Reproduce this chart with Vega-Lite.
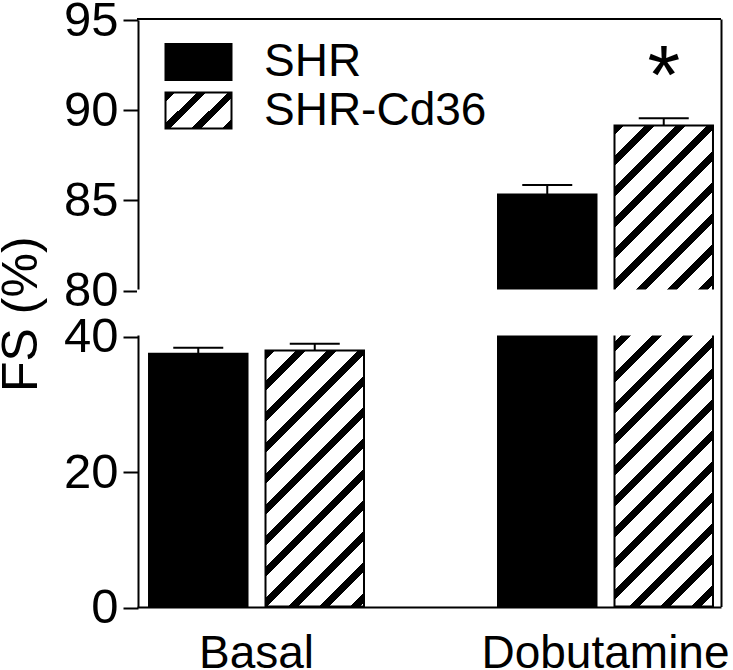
{
  "$schema": "https://vega.github.io/schema/vega-lite/v6.json",
  "width": 584,
  "height": 588,
  "autosize": {"type": "none"},
  "padding": {"left": 137, "top": 19, "right": 12, "bottom": 63},
  "background": "white",
  "config": {"font": "Liberation Sans", "view": {"stroke": null}},
  "data": {"values": [
    {"cond": "Basal", "group": "SHR", "fs": 37.3, "upper": 38.2, "sig": ""},
    {"cond": "Basal", "group": "SHR-Cd36", "fs": 37.8, "upper": 38.8, "sig": ""},
    {"cond": "Dobutamine", "group": "SHR", "fs": 85.27, "upper": 85.8, "sig": ""},
    {"cond": "Dobutamine", "group": "SHR-Cd36", "fs": 89.1, "upper": 89.5, "sig": "*"}
  ]},
  "layer": [
    {
      "mark": {"type": "bar", "stroke": "black", "strokeWidth": 2},
      "encoding": {
        "x": {"field": "cond", "type": "nominal", "sort": ["Basal", "Dobutamine"], "scale": {"paddingInner": 0.384, "paddingOuter": 0.0287, "align": 0.6}, "axis": {"title": null, "labelAngle": 0, "labelFontSize": 46, "labelColor": "black", "labelLimit": 0, "labelOverlap": false, "ticks": false, "tickSize": 0, "labelPadding": 24, "domainColor": "black", "domainWidth": 2}},
        "xOffset": {"field": "group", "type": "nominal", "sort": ["SHR", "SHR-Cd36"], "scale": {"paddingInner": 0.1545, "paddingOuter": 0}},
        "y": {"field": "fs", "type": "quantitative", "scale": {"type": "linear", "domain": [0, 40, 80, 95], "range": [587.5, 316.5, 270.5, 0], "nice": false}, "axis": {"values": [0, 20, 40, 80, 85, 90, 95], "grid": false, "labelFontSize": 49, "labelColor": "black", "labelOverlap": false, "labelLimit": 0, "labelPadding": 5, "tickSize": 15, "tickWidth": 2, "tickColor": "black", "domainWidth": 2, "domainColor": "black", "translate": 1.5, "title": "FS (%)", "titleFontSize": 50, "titleFontWeight": "normal", "titleColor": "black", "titlePadding": 17}},
        "fill": {
          "field": "group", "type": "nominal",
          "scale": {"domain": ["SHR", "SHR-Cd36"], "range": ["black", {"expr": "{gradient: 'linear', x1: 0, y1: 0, x2: 9.0499, y2: 4.9363, stops: [{offset: 0, color: '#000'}, {offset: 0.012, color: '#000'}, {offset: 0.012, color: '#fff'}, {offset: 0.04, color: '#fff'}, {offset: 0.04, color: '#000'}, {offset: 0.052, color: '#000'}, {offset: 0.052, color: '#fff'}, {offset: 0.08, color: '#fff'}, {offset: 0.08, color: '#000'}, {offset: 0.092, color: '#000'}, {offset: 0.092, color: '#fff'}, {offset: 0.12, color: '#fff'}, {offset: 0.12, color: '#000'}, {offset: 0.132, color: '#000'}, {offset: 0.132, color: '#fff'}, {offset: 0.16, color: '#fff'}]}"}]},
          "legend": {"orient": "none", "legendX": 38.5, "legendY": 20, "title": null, "padding": 0, "symbolType": "M-2,-1.09L2,-1.09L2,1.09L-2,1.09Z", "symbolSize": 1089, "symbolStrokeColor": "black", "symbolStrokeWidth": 2, "labelFontSize": 46, "labelColor": "black", "labelLimit": 0, "labelOffset": 42.5, "rowPadding": 2.5},
          "condition": [
            {"test": "datum.group === 'SHR-Cd36' && datum.cond === 'Basal'", "value": {"gradient": "linear", "x1": 0, "y1": 0, "x2": 1.0139, "y2": 2.6362, "stops": [
              {"offset": 0, "color": "#000"}, {"offset": 0.012, "color": "#000"}, {"offset": 0.012, "color": "#fff"}, {"offset": 0.04, "color": "#fff"},
              {"offset": 0.04, "color": "#000"}, {"offset": 0.052, "color": "#000"}, {"offset": 0.052, "color": "#fff"}, {"offset": 0.08, "color": "#fff"},
              {"offset": 0.08, "color": "#000"}, {"offset": 0.092, "color": "#000"}, {"offset": 0.092, "color": "#fff"}, {"offset": 0.12, "color": "#fff"},
              {"offset": 0.12, "color": "#000"}, {"offset": 0.132, "color": "#000"}, {"offset": 0.132, "color": "#fff"}, {"offset": 0.16, "color": "#fff"},
              {"offset": 0.16, "color": "#000"}, {"offset": 0.172, "color": "#000"}, {"offset": 0.172, "color": "#fff"}, {"offset": 0.2, "color": "#fff"},
              {"offset": 0.2, "color": "#000"}, {"offset": 0.212, "color": "#000"}, {"offset": 0.212, "color": "#fff"}, {"offset": 0.24, "color": "#fff"},
              {"offset": 0.24, "color": "#000"}, {"offset": 0.252, "color": "#000"}, {"offset": 0.252, "color": "#fff"}, {"offset": 0.28, "color": "#fff"},
              {"offset": 0.28, "color": "#000"}, {"offset": 0.292, "color": "#000"}, {"offset": 0.292, "color": "#fff"}, {"offset": 0.32, "color": "#fff"},
              {"offset": 0.32, "color": "#000"}, {"offset": 0.332, "color": "#000"}, {"offset": 0.332, "color": "#fff"}, {"offset": 0.36, "color": "#fff"},
              {"offset": 0.36, "color": "#000"}, {"offset": 0.372, "color": "#000"}, {"offset": 0.372, "color": "#fff"}, {"offset": 0.4, "color": "#fff"},
              {"offset": 0.4, "color": "#000"}, {"offset": 0.412, "color": "#000"}, {"offset": 0.412, "color": "#fff"}, {"offset": 0.44, "color": "#fff"},
              {"offset": 0.44, "color": "#000"}, {"offset": 0.452, "color": "#000"}, {"offset": 0.452, "color": "#fff"}, {"offset": 0.48, "color": "#fff"}
            ]}},
            {"test": "datum.group === 'SHR-Cd36'", "value": {"gradient": "linear", "x1": 0, "y1": 0, "x2": 0.3165, "y2": 1.5461, "stops": [
              {"offset": 0, "color": "#000"}, {"offset": 0.012, "color": "#000"}, {"offset": 0.012, "color": "#fff"}, {"offset": 0.04, "color": "#fff"},
              {"offset": 0.04, "color": "#000"}, {"offset": 0.052, "color": "#000"}, {"offset": 0.052, "color": "#fff"}, {"offset": 0.08, "color": "#fff"},
              {"offset": 0.08, "color": "#000"}, {"offset": 0.092, "color": "#000"}, {"offset": 0.092, "color": "#fff"}, {"offset": 0.12, "color": "#fff"},
              {"offset": 0.12, "color": "#000"}, {"offset": 0.132, "color": "#000"}, {"offset": 0.132, "color": "#fff"}, {"offset": 0.16, "color": "#fff"},
              {"offset": 0.16, "color": "#000"}, {"offset": 0.172, "color": "#000"}, {"offset": 0.172, "color": "#fff"}, {"offset": 0.2, "color": "#fff"},
              {"offset": 0.2, "color": "#000"}, {"offset": 0.212, "color": "#000"}, {"offset": 0.212, "color": "#fff"}, {"offset": 0.24, "color": "#fff"},
              {"offset": 0.24, "color": "#000"}, {"offset": 0.252, "color": "#000"}, {"offset": 0.252, "color": "#fff"}, {"offset": 0.28, "color": "#fff"},
              {"offset": 0.28, "color": "#000"}, {"offset": 0.292, "color": "#000"}, {"offset": 0.292, "color": "#fff"}, {"offset": 0.32, "color": "#fff"},
              {"offset": 0.32, "color": "#000"}, {"offset": 0.332, "color": "#000"}, {"offset": 0.332, "color": "#fff"}, {"offset": 0.36, "color": "#fff"},
              {"offset": 0.36, "color": "#000"}, {"offset": 0.372, "color": "#000"}, {"offset": 0.372, "color": "#fff"}, {"offset": 0.4, "color": "#fff"},
              {"offset": 0.4, "color": "#000"}, {"offset": 0.412, "color": "#000"}, {"offset": 0.412, "color": "#fff"}, {"offset": 0.44, "color": "#fff"},
              {"offset": 0.44, "color": "#000"}, {"offset": 0.452, "color": "#000"}, {"offset": 0.452, "color": "#fff"}, {"offset": 0.48, "color": "#fff"},
              {"offset": 0.48, "color": "#000"}, {"offset": 0.492, "color": "#000"}, {"offset": 0.492, "color": "#fff"}, {"offset": 0.52, "color": "#fff"},
              {"offset": 0.52, "color": "#000"}, {"offset": 0.532, "color": "#000"}, {"offset": 0.532, "color": "#fff"}, {"offset": 0.56, "color": "#fff"},
              {"offset": 0.56, "color": "#000"}, {"offset": 0.572, "color": "#000"}, {"offset": 0.572, "color": "#fff"}, {"offset": 0.6, "color": "#fff"},
              {"offset": 0.6, "color": "#000"}, {"offset": 0.612, "color": "#000"}, {"offset": 0.612, "color": "#fff"}, {"offset": 0.64, "color": "#fff"},
              {"offset": 0.64, "color": "#000"}, {"offset": 0.652, "color": "#000"}, {"offset": 0.652, "color": "#fff"}, {"offset": 0.68, "color": "#fff"},
              {"offset": 0.68, "color": "#000"}, {"offset": 0.692, "color": "#000"}, {"offset": 0.692, "color": "#fff"}, {"offset": 0.72, "color": "#fff"},
              {"offset": 0.72, "color": "#000"}, {"offset": 0.732, "color": "#000"}, {"offset": 0.732, "color": "#fff"}, {"offset": 0.76, "color": "#fff"}
            ]}}
          ]
        }
      }
    },
    {
      "mark": {"type": "rule", "color": "black", "strokeWidth": 2},
      "encoding": {
        "x": {"field": "cond", "type": "nominal", "sort": ["Basal", "Dobutamine"], "scale": {"paddingInner": 0.384, "paddingOuter": 0.0287, "align": 0.6}, "axis": {"title": null, "labelAngle": 0, "labelFontSize": 46, "labelColor": "black", "labelLimit": 0, "labelOverlap": false, "ticks": false, "tickSize": 0, "labelPadding": 24, "domainColor": "black", "domainWidth": 2}},
        "xOffset": {"field": "group", "type": "nominal", "sort": ["SHR", "SHR-Cd36"], "scale": {"paddingInner": 0.1545, "paddingOuter": 0}},
        "y": {"field": "fs", "type": "quantitative", "scale": {"type": "linear", "domain": [0, 40, 80, 95], "range": [587.5, 316.5, 270.5, 0], "nice": false}, "axis": null},
        "y2": {"field": "upper"}
      }
    },
    {
      "mark": {"type": "tick", "color": "black", "thickness": 2, "size": 50, "opacity": 1},
      "encoding": {
        "x": {"field": "cond", "type": "nominal", "sort": ["Basal", "Dobutamine"], "scale": {"paddingInner": 0.384, "paddingOuter": 0.0287, "align": 0.6}, "axis": {"title": null, "labelAngle": 0, "labelFontSize": 46, "labelColor": "black", "labelLimit": 0, "labelOverlap": false, "ticks": false, "tickSize": 0, "labelPadding": 24, "domainColor": "black", "domainWidth": 2}},
        "xOffset": {"field": "group", "type": "nominal", "sort": ["SHR", "SHR-Cd36"], "scale": {"paddingInner": 0.1545, "paddingOuter": 0}},
        "y": {"field": "upper", "type": "quantitative", "scale": {"type": "linear", "domain": [0, 40, 80, 95], "range": [587.5, 316.5, 270.5, 0], "nice": false}, "axis": null}
      }
    },
    {
      "data": {"values": [{"lo": 40, "hi": 80}]},
      "mark": {"type": "rect", "fill": "white", "stroke": null},
      "encoding": {
        "y": {"field": "lo", "type": "quantitative", "scale": {"type": "linear", "domain": [0, 40, 80, 95], "range": [587.5, 316.5, 270.5, 0], "nice": false}, "axis": null},
        "y2": {"field": "hi"}
      }
    },
    {
      "data": {"values": [{"top": 95}]},
      "mark": {"type": "rule", "color": "black", "strokeWidth": 2},
      "encoding": {
        "y": {"field": "top", "type": "quantitative", "scale": {"type": "linear", "domain": [0, 40, 80, 95], "range": [587.5, 316.5, 270.5, 0], "nice": false}, "axis": {"orient": "right", "labels": false, "ticks": false, "grid": false, "title": null, "domain": true, "domainColor": "black", "domainWidth": 2, "zindex": 1}}
      }
    },
    {
      "mark": {"type": "text", "color": "black", "fontSize": 84, "baseline": "alphabetic", "align": "center", "dy": -14},
      "encoding": {
        "x": {"field": "cond", "type": "nominal", "sort": ["Basal", "Dobutamine"], "scale": {"paddingInner": 0.384, "paddingOuter": 0.0287, "align": 0.6}, "axis": {"title": null, "labelAngle": 0, "labelFontSize": 46, "labelColor": "black", "labelLimit": 0, "labelOverlap": false, "ticks": false, "tickSize": 0, "labelPadding": 24, "domainColor": "black", "domainWidth": 2}},
        "xOffset": {"field": "group", "type": "nominal", "sort": ["SHR", "SHR-Cd36"], "scale": {"paddingInner": 0.1545, "paddingOuter": 0}},
        "y": {"field": "upper", "type": "quantitative", "scale": {"type": "linear", "domain": [0, 40, 80, 95], "range": [587.5, 316.5, 270.5, 0], "nice": false}, "axis": null},
        "text": {"field": "sig"}
      }
    }
  ],
  "resolve": {"axis": {"y": "independent"}}
}
